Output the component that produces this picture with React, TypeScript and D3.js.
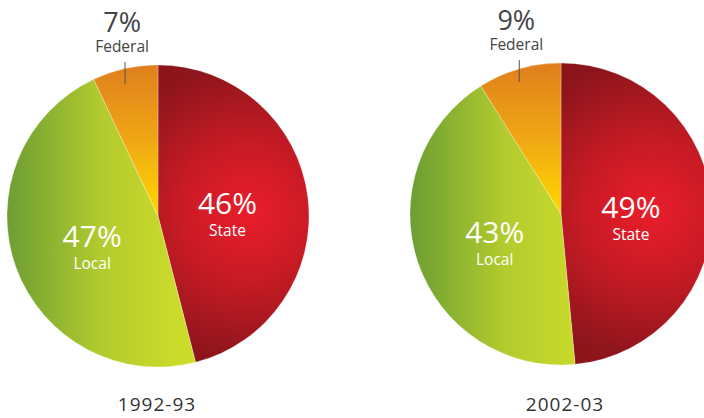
import React from "react";
import * as d3 from "d3";

const categories = ["State", "Local", "Federal"];
const years = ["1992-93", "2002-03"];
const values1992 = [46, 47, 7];
const values2002 = [49, 43, 9];

const W = 704;
const H = 418;
const R = 151;
const centers: [number, number][] = [
  [158, 216],
  [561, 214],
];

const FONT = "'Open Sans', 'DejaVu Sans', sans-serif";

function Pie({ idx, values }: { idx: number; values: number[] }) {
  const [cx, cy] = centers[idx];
  const pie = d3.pie<number>().sort(null).value((d) => d);
  const arcs = pie(values);
  const arc = d3.arc<d3.PieArcDatum<number>>().innerRadius(0).outerRadius(R);
  const labelArc = d3.arc<d3.PieArcDatum<number>>().innerRadius(70).outerRadius(70);
  const fills = [`url(#state${idx})`, `url(#local${idx})`, `url(#fed${idx})`];
  const fed = arcs[2];
  const fedMid = (fed.startAngle + fed.endAngle) / 2;
  const tickX = R * Math.sin(fedMid);
  return (
    <g>
      <defs>
        <radialGradient id={`state${idx}`} gradientUnits="userSpaceOnUse" cx={90} cy={-4} r={150}>
          <stop offset="0" stopColor="#ea1d2b" />
          <stop offset="0.45" stopColor="#c81b25" />
          <stop offset="1" stopColor="#8c151b" />
        </radialGradient>
        <linearGradient id={`local${idx}`} gradientUnits="userSpaceOnUse" x1={-R} y1={0} x2={20} y2={0}>
          <stop offset="0" stopColor="#6c9e32" />
          <stop offset="0.55" stopColor="#b2cb2e" />
          <stop offset="1" stopColor="#cbdb2a" />
        </linearGradient>
        <linearGradient id={`fed${idx}`} gradientUnits="userSpaceOnUse" x1={0} y1={-R} x2={0} y2={0}>
          <stop offset="0" stopColor="#df7f1d" />
          <stop offset="0.5" stopColor="#f0a714" />
          <stop offset="1" stopColor="#ffd900" />
        </linearGradient>
      </defs>
      <g transform={`translate(${cx},${cy})`}>
        {arcs.map((a, i) => (
          <path key={i} d={arc(a) || ""} fill={fills[i]} stroke="#ffffff" strokeOpacity={0.45} strokeWidth={0.6} />
        ))}
        {arcs.slice(0, 2).map((a, i) => {
          const [lx, ly] = labelArc.centroid(a);
          return (
            <g key={i} fill="#ffffff" textAnchor="middle" fontFamily={FONT}>
              <text x={lx} y={ly + 7} fontSize={30}>
                {values[i]}%
              </text>
              <text x={lx} y={ly + 29} fontSize={15.5}>
                {categories[i]}
              </text>
            </g>
          );
        })}
        <line x1={tickX} x2={tickX} y1={-R - 3} y2={-R + 19} stroke="#555" strokeWidth={1} />
        <g fill="#444" textAnchor="middle" fontFamily={FONT}>
          <text x={tickX - 3} y={-R - 33} fontSize={27}>
            {values[2]}%
          </text>
          <text x={tickX - 3} y={-R - 13} fontSize={15.5}>
            {categories[2]}
          </text>
        </g>
      </g>
      <text
        x={cx + (idx === 0 ? -1 : 4)}
        y={411}
        textAnchor="middle"
        fill="#333"
        fontFamily="'Open Sans', sans-serif"
        fontSize={19}
        letterSpacing={1}
      >
        {years[idx]}
      </text>
    </g>
  );
}

export default function App() {
  return (
    <svg width={W} height={H} style={{ position: "absolute", left: 0, top: 0, background: "#fff" }}>
      <rect width={W} height={H} fill="#fff" />
      <Pie idx={0} values={values1992} />
      <Pie idx={1} values={values2002} />
    </svg>
  );
}
